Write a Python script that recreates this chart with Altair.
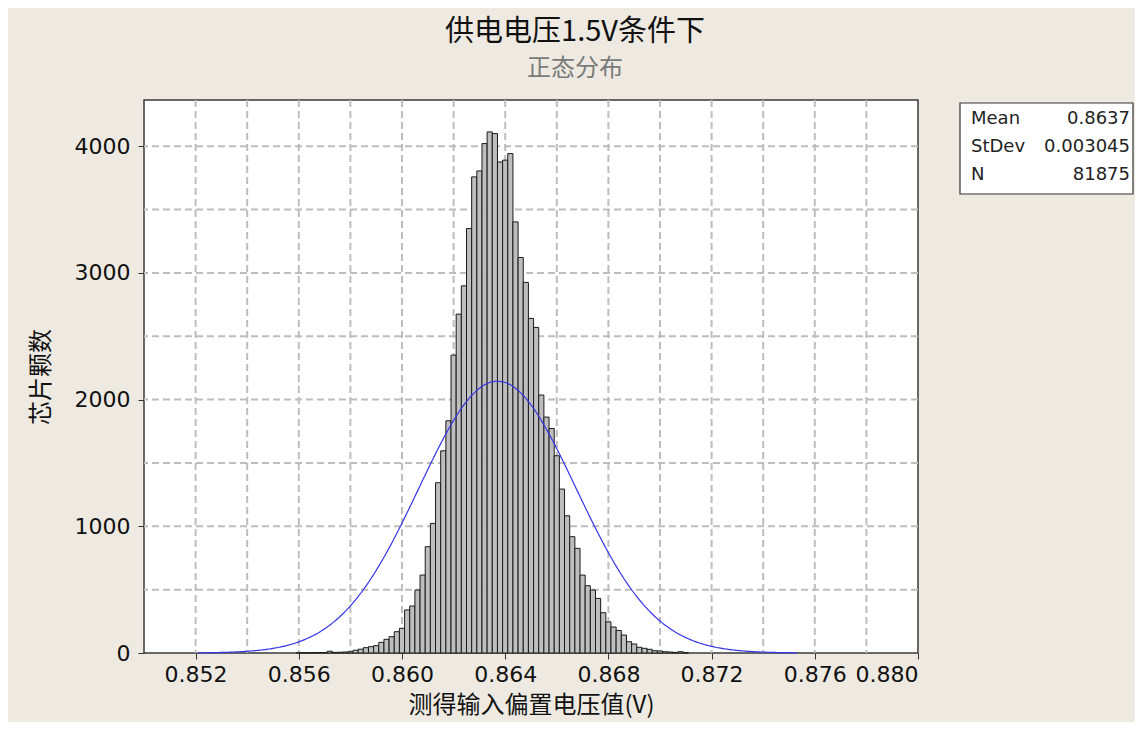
import altair as alt
import pandas as pd

# ---- data ----
bin_width = 0.0002
bin_first_mid = 0.8560
bin_counts = [
    2, 2, 3, 3, 4, 4, 14, 5, 6, 8, 10, 22, 30, 42, 50, 58, 84, 108, 129, 168,
    195, 340, 371, 497, 615, 839, 1023, 1344, 1596, 1833,
    2351, 2675, 2898, 3350, 3758, 3805, 4021, 4113, 4100, 3876,
    3890, 3942, 3403, 3122, 2925, 2641, 2570, 2036, 1862, 1772,
    1557, 1294, 1083, 918, 826, 615, 531, 497, 431, 318,
    245, 205, 178, 142, 89, 71, 45, 37, 29, 18,
    16, 10, 8, 5, 10, 3,
]
bin_mids = [round(bin_first_mid + bin_width * i, 4) for i in range(len(bin_counts))]

fit_mean = 0.8637
fit_stdev = 0.003045
fit_n = 81875

stat_names = ["Mean", "StDev", "N"]
stat_values = ["0.8637", "0.003045", "81875"]

x_ticks = [0.852, 0.856, 0.860, 0.864, 0.868, 0.872, 0.876, 0.880]
x_grid = [0.852, 0.854, 0.856, 0.858, 0.860, 0.862, 0.864, 0.866, 0.868,
          0.870, 0.872, 0.874, 0.876, 0.878]
y_ticks = [0, 1000, 2000, 3000, 4000]
y_grid = [500, 1000, 1500, 2000, 2500, 3000, 3500, 4000]

x_domain = [0.850, 0.880]
y_domain = [0, 4365]

x_title = "测得输入偏置电压值(V)"
y_title = "芯片颗数"

# ---- chart ----
xs = alt.Scale(domain=x_domain, nice=False, zero=False)
ys = alt.Scale(domain=y_domain, nice=False, zero=False)
x_axis = alt.Axis(values=x_ticks, format=".3f", grid=False, title=x_title)
y_axis = alt.Axis(values=y_ticks, format="d", grid=False, title=y_title)

grid_color = "#BDBDBD"
grid_dash = [7, 4]

vgrid = alt.Chart(pd.DataFrame({"g": x_grid})).mark_rule(
    color=grid_color, strokeWidth=2, strokeDash=grid_dash
).encode(x=alt.X("g:Q", scale=xs, axis=x_axis))

hgrid = alt.Chart(pd.DataFrame({"g": y_grid})).mark_rule(
    color=grid_color, strokeWidth=2, strokeDash=grid_dash
).encode(y=alt.Y("g:Q", scale=ys, axis=y_axis))

bars = alt.Chart(pd.DataFrame({"mid": bin_mids, "count": bin_counts})).transform_calculate(
    x0=f"datum.mid - {bin_width / 2}",
    x1=f"datum.mid + {bin_width / 2}",
).mark_rect(fill="#BEBEBE", stroke="#1A1A1A", strokeWidth=1).encode(
    x=alt.X("x0:Q", scale=xs, axis=x_axis),
    x2="x1:Q",
    y=alt.Y("count:Q", scale=ys, axis=y_axis),
    y2=alt.datum(0),
)

curve = alt.Chart(alt.sequence(0.8521, 0.87535, 0.00005, as_="v")).transform_calculate(
    dens=f"{fit_n} * {bin_width} / ({fit_stdev} * sqrt(2 * PI)) * "
         f"exp(-0.5 * pow((datum.v - {fit_mean}) / {fit_stdev}, 2))"
).mark_line(color="#3636E8", strokeWidth=1.2).encode(
    x=alt.X("v:Q", scale=xs, axis=x_axis),
    y=alt.Y("dens:Q", scale=ys, axis=y_axis),
)

one = pd.DataFrame({"a": [0]})
box = alt.Chart(one).mark_rect(fill="white", stroke="#333333", strokeWidth=1.2).encode(
    x=alt.value(816), x2=alt.value(989), y=alt.value(3), y2=alt.value(94)
)
names_txt = alt.Chart(one).mark_text(
    align="left", baseline="middle", font="DejaVu Sans", fontSize=18,
    lineHeight=28, color="#222222"
).encode(x=alt.value(827), y=alt.value(19), text=alt.value(stat_names))
values_txt = alt.Chart(one).mark_text(
    align="right", baseline="middle", font="DejaVu Sans", fontSize=18,
    lineHeight=28, color="#222222"
).encode(x=alt.value(986), y=alt.value(19), text=alt.value(stat_values))

chart = alt.layer(vgrid, hgrid, bars, curve, box, names_txt, values_txt).properties(
    width=774,
    height=553,
    autosize=alt.AutoSizeParams(type="none"),
    padding={"left": 136, "top": 92, "right": 217, "bottom": 69},
    background="#EEEAE1",
    title=alt.TitleParams(
        text="供电电压1.5V条件下",
        subtitle="正态分布",
        anchor="middle",
        dx=44,
        font="Noto Sans CJK SC",
        fontSize=29,
        fontWeight="normal",
        color="#111111",
        subtitleFont="Noto Sans CJK SC",
        subtitleFontSize=24,
        subtitleColor="#7A7A7A",
        subtitlePadding=10,
        offset=18,
    ),
).configure_view(
    fill="white", stroke="#3A3A3A", strokeWidth=1.5
).configure_axis(
    labelFont="DejaVu Sans",
    labelFontSize=22,
    labelColor="#111111",
    domain=False,
    ticks=True,
    tickColor="#333333",
    tickSize=6,
    labelPadding=5,
    titleFont="Noto Sans CJK SC",
    titleFontSize=24,
    titleFontWeight="normal",
    titleColor="#111111",
).configure_axisX(titlePadding=8, labelPadding=5).configure_axisY(titlePadding=21, labelPadding=8)

chart.save("out.html", embed_options={"renderer": "svg", "actions": False})
